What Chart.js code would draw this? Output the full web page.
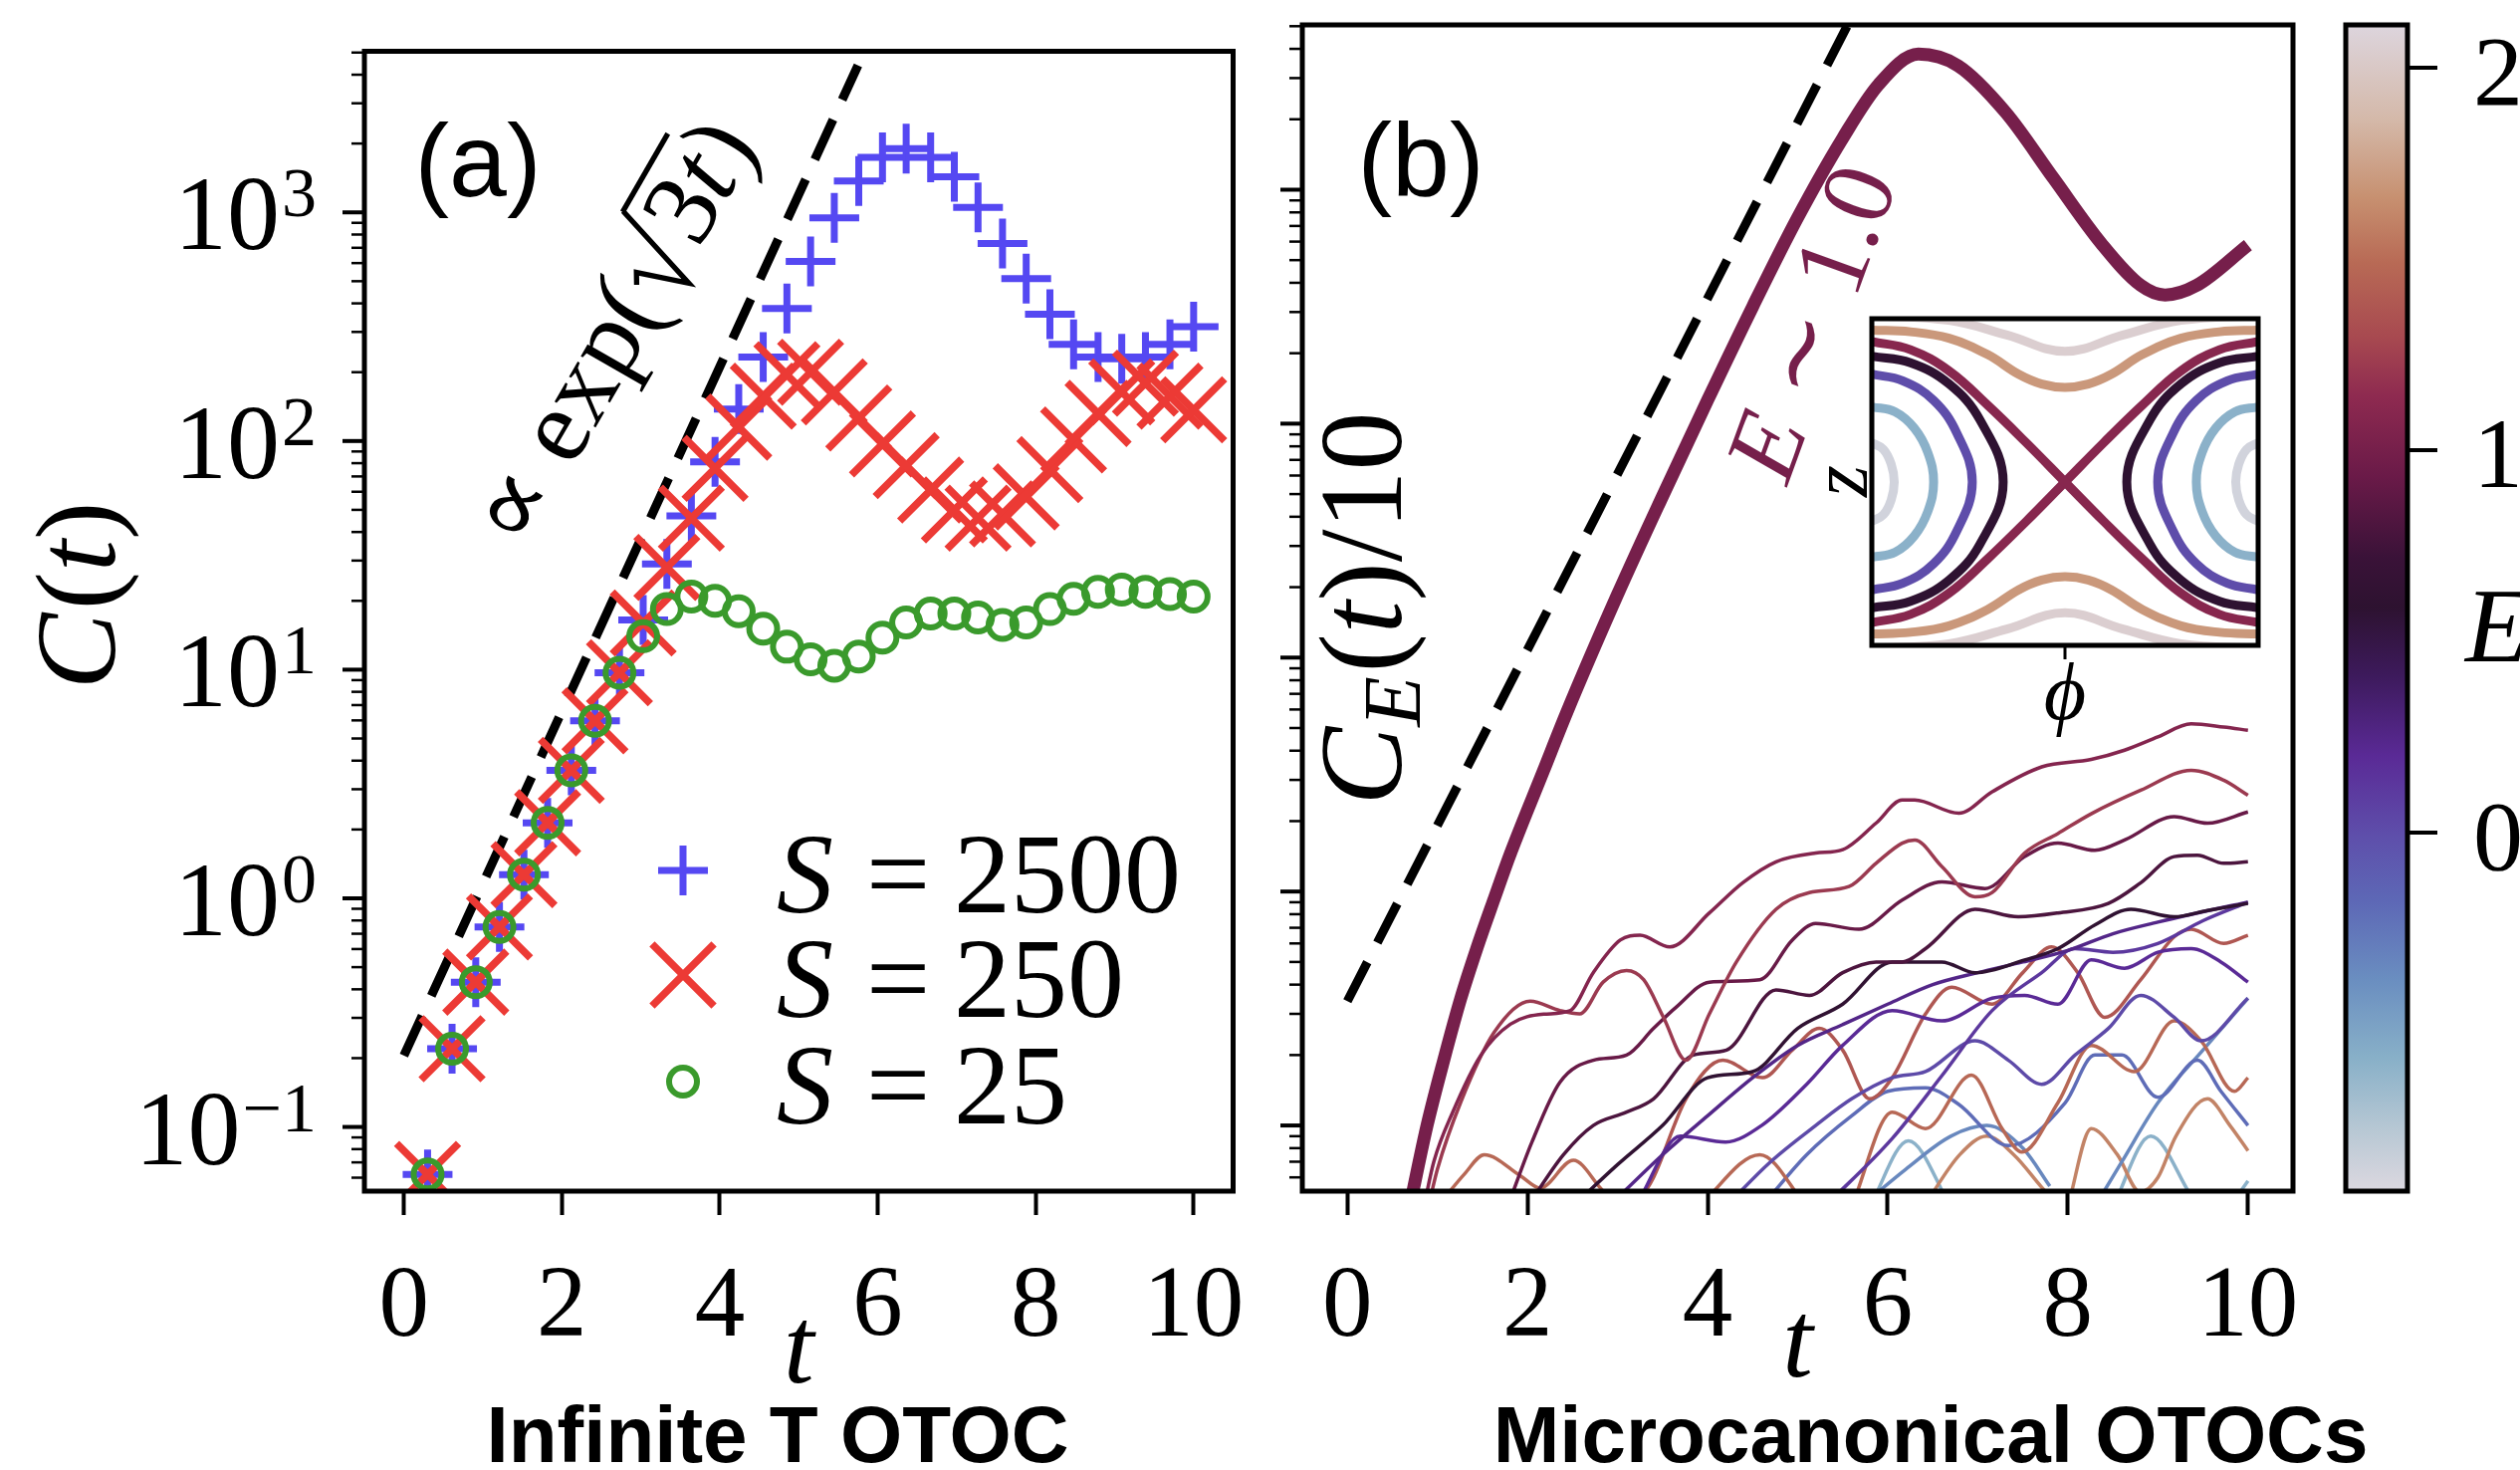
<!DOCTYPE html>
<html>
<head>
<meta charset="utf-8">
<title>OTOC growth</title>
<script src="https://cdn.jsdelivr.net/npm/chart.js@4.4.1/dist/chart.umd.min.js"></script>
<style>
  html, body { margin: 0; padding: 0; background: #fff; }
  body { position: relative; width: 2531px; height: 1476px; overflow: hidden; }
  canvas { position: absolute; top: 0; }
  .caption { position: absolute; top: 1401px; font: bold 80px "Liberation Sans", Arial, sans-serif; line-height: 80px; color: #000; white-space: nowrap; transform: translateX(-50%); }
</style>
</head>
<body>
<canvas id="panelA" width="1290" height="1476" style="left:0"></canvas>
<canvas id="panelB" width="1090" height="1476" style="left:1260px"></canvas>
<canvas id="colorbar" width="191" height="1476" style="left:2340px"></canvas>
<canvas id="inset" width="470" height="470" style="left:1820px; top:300px"></canvas>
<div class="caption" style="left:781px">Infinite T OTOC</div>
<div class="caption" style="left:1939px">Microcanonical OTOCs</div>
<script>
// ---------- values ----------
const xTicks = [0, 2, 4, 6, 8, 10];
const yTickExps = [-1, 0, 1, 2, 3];
const cbTicks = [0, 1, 2];
const spinSizes = [2500, 250, 25];
const yRange = [0.0524, 5064];
const eRange = [-0.9375, 2.112];

// panel (a): infinite temperature OTOC
const tGrid = [0.30, 0.61, 0.91, 1.21, 1.52, 1.82, 2.12, 2.42, 2.73, 3.03, 3.33, 3.64, 3.94, 4.24, 4.55, 4.85, 5.15,
  5.45, 5.76, 6.06, 6.36, 6.67, 6.97, 7.27, 7.58, 7.88, 8.18, 8.48, 8.79, 9.09, 9.39, 9.70, 10.00];
const otoc2500 = [0.062, 0.22, 0.43, 0.75, 1.27, 2.14, 3.63, 5.97, 9.7, 16.5, 29, 47, 81, 138, 233, 380, 610,
  946, 1370, 1740, 1900, 1740, 1430, 1050, 730, 513, 359, 265, 233, 229, 233, 265, 316];
const otoc250 = [0.062, 0.22, 0.43, 0.75, 1.27, 2.14, 3.63, 5.97, 9.7, 16, 28, 46, 76, 115, 157, 195, 200,
  164, 126, 97, 78, 61, 50, 46, 48, 57, 75, 101, 132, 164, 179, 157, 137];
const otoc25 = [0.062, 0.22, 0.43, 0.75, 1.27, 2.14, 3.63, 5.97, 9.7, 14, 18.4, 20.9, 20, 18, 15.1, 12.6, 11.1,
  10.4, 11.4, 13.8, 16.1, 17.6, 17.6, 16.9, 15.7, 16.1, 18.4, 20.4, 21.9, 22.4, 21.9, 21.4, 20.9];
const guideTa = [0, 5.75];
const guideVa = [0.205, 4400];

// panel (b): microcanonical OTOCs
const thickT = [0.6, 0.74, 0.885, 1.07, 1.26, 1.44, 1.63, 1.81, 2.18, 2.43, 3.0, 3.5, 4.0, 4.5, 5.0, 5.5, 5.9, 6.34,
  6.78, 7.31, 7.84, 8.37, 8.81, 9.08, 9.43, 10.0];
const thickV = [0.03, 0.055, 0.1, 0.19, 0.35, 0.575, 0.93, 1.45, 3.3, 5.75, 18.6, 49, 126, 316, 760, 1660, 2820, 3800,
  3390, 2140, 1120, 590, 390, 355, 390, 580];
const thickE = 1.0;
const guideTb = [0, 5.56];
const guideVb = [0.34, 5100];

const thinE = [1.08, 1.22, 0.92, 0.8, 0.62, 0.25, 0.12, 0.2, 0.02, 1.38, 1.48, -0.2, -0.35, 1.6, -0.6];
const thinT = [
  [0.85, 0.96, 1.17, 1.48, 1.81, 2.18, 2.47, 2.73, 3.03, 3.25, 3.58, 4.02, 4.39, 4.76, 5.2, 5.5, 5.87, 6.16, 6.3, 6.79, 7.16, 7.71, 8.26, 8.63, 9.0, 9.37, 9.73, 10.0],
  [0.9, 1.0, 1.26, 1.63, 2.03, 2.36, 2.58, 2.84, 3.1, 3.29, 3.51, 3.76, 4.02, 4.32, 4.76, 5.13, 5.57, 5.87, 6.16, 6.3, 6.6, 6.97, 7.16, 7.52, 7.89, 8.26, 8.81, 9.37, 9.73, 10.0],
  [1.78, 2.05, 2.36, 2.73, 3.1, 3.4, 3.65, 4.02, 4.58, 4.94, 5.2, 5.68, 6.16, 6.6, 7.08, 7.52, 7.89, 8.3, 8.63, 9.18, 9.55, 10.0],
  [2.0, 2.4, 2.73, 3.1, 3.4, 3.84, 4.21, 4.76, 5.13, 5.5, 5.87, 6.16, 6.42, 6.97, 7.45, 7.89, 8.45, 8.81, 9.18, 9.44, 9.73, 10.0],
  [2.5, 3.0, 3.5, 4.0, 4.5, 5.0, 5.5, 6.05, 6.6, 6.97, 7.52, 7.89, 8.3, 8.7, 9.18, 9.55, 10.0],
  [2.9, 3.5, 4.0, 4.5, 5.0, 5.5, 6.0, 6.5, 7.0, 7.5, 8.0, 8.5, 9.0, 9.5, 10.0],
  [5.3, 6.05, 6.6, 7.16, 7.71, 8.08, 8.5, 9.0, 9.5, 10.0],
  [3.2, 3.7, 4.2, 4.6, 5.1, 5.5, 6.05, 6.6, 7.16, 7.52, 7.89, 8.26, 8.63, 9.0, 9.37, 9.7, 10.0],
  [4.2, 4.7, 5.2, 5.6, 6.05, 6.42, 6.97, 7.34, 7.71, 8.08, 8.45, 8.81, 9.18, 9.48, 10.0],
  [3.2, 3.4, 3.76, 4.17, 4.61, 4.94, 5.24, 5.5, 5.8, 6.05, 6.42, 6.71, 7.16, 7.5, 7.82, 8.11, 8.41, 8.81, 9.18, 9.37, 9.73, 10.0],
  [1.0, 1.3, 1.52, 1.92, 2.14, 2.51, 2.81, 3.05, 3.5, 3.9, 4.58, 5.1, 5.35, 5.6, 6.05, 6.42, 6.93, 7.27, 7.49, 7.89, 8.26, 8.74, 9.18, 9.48, 9.85, 10.0],
  [4.6, 5.1, 5.6, 6.0, 6.42, 6.79, 7.34, 7.97, 8.3, 8.6, 9.0, 9.44, 9.7, 10.0],
  [5.7, 6.2, 6.7, 7.1, 7.5, 7.8, 8.05, 8.3, 8.6, 9.0, 9.5, 10.0],
  [6.4, 6.8, 7.1, 7.4, 7.7, 7.9, 7.95, 8.0, 8.26, 8.55, 8.8, 9.0, 9.2, 9.55, 9.8, 10.0],
  [5.8, 6.23, 6.7, 7.6, 8.5, 8.92, 9.37, 9.6, 9.8, 10.0]
];
const thinV = [
  [0.045, 0.07, 0.114, 0.199, 0.271, 0.299, 0.309, 0.45, 0.62, 0.65, 0.58, 0.81, 1.09, 1.34, 1.46, 1.51, 1.96, 2.46, 2.46, 2.16, 2.67, 3.41, 3.67, 4.02, 4.58, 5.21, 5.05, 4.89],
  [0.045, 0.065, 0.126, 0.25, 0.34, 0.31, 0.30, 0.41, 0.46, 0.42, 0.29, 0.19, 0.30, 0.50, 0.84, 0.99, 1.05, 1.32, 1.61, 1.66, 1.28, 0.95, 0.99, 1.46, 1.77, 2.15, 2.71, 3.30, 2.99, 2.58],
  [0.045, 0.085, 0.153, 0.19, 0.2, 0.26, 0.32, 0.41, 0.42, 0.62, 0.73, 0.69, 0.92, 1.10, 1.03, 1.41, 1.61, 1.5, 1.66, 2.09, 1.96, 2.19],
  [0.045, 0.075, 0.1, 0.114, 0.13, 0.2, 0.21, 0.38, 0.36, 0.45, 0.5, 0.5, 0.57, 0.84, 0.78, 0.81, 0.89, 1.09, 1.41, 1.43, 1.32, 1.34],
  [0.045, 0.068, 0.1, 0.16, 0.17, 0.26, 0.33, 0.5, 0.5, 0.45, 0.51, 0.57, 0.72, 0.84, 0.78, 0.83, 0.89],
  [0.045, 0.075, 0.11, 0.16, 0.22, 0.27, 0.33, 0.4, 0.45, 0.5, 0.56, 0.66, 0.74, 0.82, 0.9],
  [0.045, 0.088, 0.163, 0.31, 0.45, 0.57, 0.55, 0.6, 0.75, 0.9],
  [0.045, 0.09, 0.085, 0.1, 0.15, 0.22, 0.31, 0.28, 0.35, 0.36, 0.33, 0.51, 0.47, 0.55, 0.57, 0.5, 0.41],
  [0.045, 0.07, 0.1, 0.13, 0.16, 0.17, 0.23, 0.19, 0.15, 0.2, 0.26, 0.36, 0.29, 0.23, 0.35],
  [0.045, 0.06, 0.13, 0.19, 0.16, 0.21, 0.26, 0.21, 0.13, 0.16, 0.3, 0.39, 0.33, 0.45, 0.58, 0.45, 0.29, 0.42, 0.64, 0.69, 0.6, 0.65],
  [0.045, 0.062, 0.075, 0.061, 0.054, 0.071, 0.054, 0.042, null, 0.045, 0.075, 0.045, null, 0.045, 0.114, 0.097, 0.164, 0.097, 0.077, 0.125, 0.22, 0.17, 0.28, 0.23, 0.14, 0.16],
  [0.045, 0.075, 0.11, 0.14, 0.145, 0.123, 0.082, 0.125, 0.2, 0.2, 0.132, 0.19, 0.14, 0.1],
  [0.045, 0.065, 0.09, 0.1, 0.08, 0.055, null, 0.045, 0.07, 0.125, 0.21, 0.35],
  [0.045, 0.075, 0.09, 0.075, 0.055, 0.045, null, 0.045, 0.097, 0.075, 0.052, 0.06, 0.09, 0.13, 0.1, 0.078],
  [0.045, 0.086, 0.045, null, 0.045, 0.09, 0.05, null, 0.045, 0.058]
];

// inset: energy contours in the (phi, z) plane, phi as a fraction of the period
const insetE = [-0.9, -0.9, -0.6, -0.6, 0.0, 0.0, 0.6, 0.6, 1.1, 1.1, 1.7, 1.7, 2.05, 2.05];
const insetPhi = [
  [0, 0.03, 0.05, 0.058, 0.05, 0.03, 0],
  [1, 0.97, 0.95, 0.942, 0.95, 0.97, 1],
  [0, 0.06, 0.11, 0.145, 0.16, 0.145, 0.11, 0.06, 0],
  [1, 0.94, 0.89, 0.855, 0.84, 0.855, 0.89, 0.94, 1],
  [0, 0.08, 0.16, 0.22, 0.26, 0.22, 0.16, 0.08, 0],
  [1, 0.92, 0.84, 0.78, 0.74, 0.78, 0.84, 0.92, 1],
  [0, 0.1, 0.2, 0.28, 0.34, 0.28, 0.2, 0.1, 0],
  [1, 0.9, 0.8, 0.72, 0.66, 0.72, 0.8, 0.9, 1],
  [0, 0.1, 0.2, 0.3, 0.4, 0.5, 0.6, 0.7, 0.8, 0.9, 1],
  [0, 0.1, 0.2, 0.3, 0.4, 0.5, 0.6, 0.7, 0.8, 0.9, 1],
  [0, 0.1, 0.2, 0.3, 0.38, 0.44, 0.5, 0.56, 0.62, 0.7, 0.8, 0.9, 1],
  [0, 0.1, 0.2, 0.3, 0.38, 0.44, 0.5, 0.56, 0.62, 0.7, 0.8, 0.9, 1],
  [0, 0.2, 0.35, 0.5, 0.65, 0.8, 1],
  [0, 0.2, 0.35, 0.5, 0.65, 0.8, 1]
];
const insetZ = [
  [0.24, 0.2, 0.11, 0, -0.11, -0.2, -0.24],
  [0.24, 0.2, 0.11, 0, -0.11, -0.2, -0.24],
  [0.46, 0.43, 0.33, 0.18, 0, -0.18, -0.33, -0.43, -0.46],
  [0.46, 0.43, 0.33, 0.18, 0, -0.18, -0.33, -0.43, -0.46],
  [0.66, 0.62, 0.5, 0.3, 0, -0.3, -0.5, -0.62, -0.66],
  [0.66, 0.62, 0.5, 0.3, 0, -0.3, -0.5, -0.62, -0.66],
  [0.77, 0.73, 0.6, 0.38, 0, -0.38, -0.6, -0.73, -0.77],
  [0.77, 0.73, 0.6, 0.38, 0, -0.38, -0.6, -0.73, -0.77],
  [0.86, 0.81, 0.68, 0.47, 0.24, 0, -0.24, -0.47, -0.68, -0.81, -0.86],
  [-0.86, -0.81, -0.68, -0.47, -0.24, 0, 0.24, 0.47, 0.68, 0.81, 0.86],
  [0.93, 0.92, 0.88, 0.78, 0.66, 0.6, 0.58, 0.6, 0.66, 0.78, 0.88, 0.92, 0.93],
  [-0.93, -0.92, -0.88, -0.78, -0.66, -0.6, -0.58, -0.6, -0.66, -0.78, -0.88, -0.92, -0.93],
  [1.02, 0.99, 0.9, 0.8, 0.9, 0.99, 1.02],
  [-1.02, -0.99, -0.9, -0.8, -0.9, -0.99, -1.02]
];

// colour map sampled off the colour bar (energy -> colour)
const cmapE = [-0.95, -0.78, -0.59, -0.385, -0.18, -0.01, 0.2, 0.41, 0.59, 0.72, 0.93, 1.14, 1.30, 1.49, 1.66, 1.86, 2.11];
const cmapHex = ['#dcd8e0', '#b8c8d4', '#88b0c8', '#6a8ec0', '#5d68b6', '#5e4fab', '#5a2a96', '#3d1a5c', '#2d1230',
  '#3a1238', '#6a1a48', '#8e2a50', '#a84a50', '#b86a55', '#c79070', '#d4b8a8', '#ddd5dd'];

// ---------- helpers ----------
const SERIF = '"Liberation Serif", "DejaVu Serif", serif';
const SANS = '"Liberation Sans", Arial, sans-serif';
const BLUE = '#5548f2', RED = '#ec3a35', GREEN = '#3a9a2c';

function hexRgb(h) {
  const n = parseInt(h.slice(1), 16);
  return [n >> 16, (n >> 8) & 255, n & 255];
}
function cmap(e) {
  if (e <= cmapE[0]) return cmapHex[0];
  for (let i = 1; i < cmapE.length; i++) {
    if (e <= cmapE[i]) {
      const f = (e - cmapE[i - 1]) / (cmapE[i] - cmapE[i - 1]);
      const a = hexRgb(cmapHex[i - 1]), b = hexRgb(cmapHex[i]);
      return 'rgb(' + a.map((c, k) => Math.round(c + (b[k] - c) * f)).join(',') + ')';
    }
  }
  return cmapHex[cmapHex.length - 1];
}
const pts = (xs, ys) => xs.map((x, i) => ({ x: x, y: ys[i] }));
const font = (size, italic) => (italic ? 'italic ' : '') + Math.round(size) + 'px ' + SERIF;

// little math-text renderer: pieces are drawn one after another on a baseline
function runWidth(ctx, pieces, size) {
  let w = 0;
  for (const p of pieces) {
    if (p.sqrt) { w += 0.62 * size; continue; }
    ctx.font = font(size * (p.s || 1), p.it);
    w += ctx.measureText(p.t).width + (p.gap || 0) * size;
  }
  return w;
}
function drawRun(ctx, pieces, x, y, size) {
  let cx = x, overFrom = null;
  for (const p of pieces) {
    if (p.sqrt) {
      ctx.save();
      ctx.lineWidth = 0.05 * size;
      ctx.strokeStyle = ctx.fillStyle;
      ctx.beginPath();
      ctx.moveTo(cx + 0.04 * size, y - 0.34 * size);
      ctx.lineTo(cx + 0.14 * size, y - 0.40 * size);
      ctx.lineTo(cx + 0.30 * size, y + 0.08 * size);
      ctx.lineTo(cx + 0.58 * size, y - 0.80 * size);
      ctx.stroke();
      ctx.restore();
      overFrom = cx + 0.57 * size;
      cx += 0.62 * size;
      continue;
    }
    ctx.font = font(size * (p.s || 1), p.it);
    ctx.fillText(p.t, cx, y + (p.dy || 0) * size);
    cx += ctx.measureText(p.t).width + (p.gap || 0) * size;
    if (p.endOver && overFrom !== null) {
      ctx.fillRect(overFrom, y - 0.825 * size, cx - overFrom, 0.05 * size);
      overFrom = null;
    }
  }
}
function drawRotated(ctx, pieces, cx, cy, deg, size, color) {
  ctx.save();
  ctx.translate(cx, cy);
  ctx.rotate(deg * Math.PI / 180);
  ctx.fillStyle = color;
  ctx.textAlign = 'left';
  ctx.textBaseline = 'alphabetic';
  const w = runWidth(ctx, pieces, size);
  drawRun(ctx, pieces, -w / 2, 0.3 * size, size);
  ctx.restore();
}
function drawMarker(ctx, style, x, y, r, lw, color) {
  ctx.save();
  ctx.strokeStyle = color;
  ctx.lineWidth = lw;
  ctx.beginPath();
  if (style === 'circle') {
    ctx.arc(x, y, r, 0, 2 * Math.PI);
  } else if (style === 'cross') {
    ctx.moveTo(x - r, y); ctx.lineTo(x + r, y);
    ctx.moveTo(x, y - r); ctx.lineTo(x, y + r);
  } else {
    const d = r * Math.SQRT1_2;
    ctx.moveTo(x - d, y - d); ctx.lineTo(x + d, y + d);
    ctx.moveTo(x + d, y - d); ctx.lineTo(x - d, y + d);
  }
  ctx.stroke();
  ctx.restore();
}

// frame + log ticks on the left spine (shared by both panels)
function drawFrame(ctx, a, ys) {
  ctx.save();
  ctx.strokeStyle = '#000';
  ctx.lineWidth = 4;
  for (const e of yTickExps) {
    const py = ys.getPixelForValue(Math.pow(10, e));
    ctx.beginPath(); ctx.moveTo(a.left - 22, py); ctx.lineTo(a.left, py); ctx.stroke();
  }
  ctx.lineWidth = 2.5;
  for (let e = -2; e <= 3; e++) {
    for (let m = 2; m <= 9; m++) {
      const v = m * Math.pow(10, e);
      if (v < yRange[0] || v > yRange[1]) continue;
      const py = ys.getPixelForValue(v);
      ctx.beginPath(); ctx.moveTo(a.left - 13, py); ctx.lineTo(a.left, py); ctx.stroke();
    }
  }
  ctx.lineWidth = 5;
  ctx.strokeRect(a.left, a.top, a.right - a.left, a.bottom - a.top);
  ctx.restore();
}

function baseOptions(padding, yWidth) {
  return {
    responsive: false, animation: false, devicePixelRatio: 1, events: [],
    layout: { padding: padding },
    plugins: { legend: { display: false }, tooltip: { enabled: false } },
    scales: {
      x: {
        type: 'linear', min: -0.5, max: 10.5,
        afterBuildTicks: s => { s.ticks = xTicks.map(v => ({ value: v })); },
        afterFit: s => { s.height = 280; },
        grid: { display: true, drawOnChartArea: false, drawTicks: true, tickLength: 24, tickWidth: 4, tickColor: '#000' },
        border: { display: false },
        ticks: { color: '#000', padding: 34, maxRotation: 0, autoSkip: false, font: { family: SERIF, size: 101 } }
      },
      y: {
        type: 'logarithmic', min: yRange[0], max: yRange[1],
        afterFit: s => { s.width = yWidth; },
        grid: { display: false }, border: { display: false }, ticks: { display: false }
      }
    }
  };
}

// ---------- panel (a) ----------
const panelAPlugin = {
  id: 'panelAPlugin',
  afterDraw(chart) {
    const ctx = chart.ctx, a = chart.chartArea, ys = chart.scales.y, xs = chart.scales.x;
    drawFrame(ctx, a, ys);
    ctx.save();
    ctx.fillStyle = '#000';
    ctx.textBaseline = 'alphabetic';
    ctx.textAlign = 'right';
    for (const e of yTickExps) {
      const py = ys.getPixelForValue(Math.pow(10, e));
      const sup = e < 0 ? '\u2212' + (-e) : String(e);
      ctx.font = font(70);
      const sw = ctx.measureText(sup).width;
      ctx.fillText(sup, 318, py + 4);
      ctx.font = font(106);
      ctx.fillText('10', 318 - sw - 2, py + 37);
    }
    // axis labels
    drawRotated(ctx, [{ t: 'C', it: true, gap: 0.03 }, { t: '(' }, { t: 't', it: true }, { t: ')' }], 80, 598, -90, 115, '#000');
    ctx.textAlign = 'center';
    ctx.font = font(110, true);
    ctx.fillText('t', xs.getPixelForValue(5), 1388);
    // legend
    const rows = chart.data.datasets.filter(d => d.spin).sort((p, q) => q.spin - p.spin);
    rows.forEach((d, i) => {
      const my = [874, 979, 1086][i];
      drawMarker(ctx, d.pointStyle, 686, my, d.pointRadius, d.pointBorderWidth, d.pointBorderColor);
      ctx.textAlign = 'left';
      ctx.font = font(114, true);
      ctx.fillText('S', 780, my + 42);
      ctx.font = font(114);
      ctx.fillText('=', 870, my + 42);
      ctx.fillText(String(d.spin), 958, my + 42);
    });
    // annotations
    ctx.textAlign = 'center';
    ctx.textBaseline = 'middle';
    ctx.font = '104px ' + SANS;
    ctx.fillText('(a)', 480, 168);
    drawRotated(ctx, [{ t: '\u221D' }, { t: ' exp(' }, { sqrt: true }, { t: '3' }, { t: 't', it: true, endOver: true, gap: 0.03 }, { t: ')' }],
      616, 335, -60, 106, '#000');
    ctx.restore();
  }
};

new Chart(document.getElementById('panelA'), {
  type: 'line',
  data: {
    datasets: [
      { spin: spinSizes[2], data: pts(tGrid, otoc25), showLine: false, pointStyle: 'circle', pointRadius: 14, pointBorderWidth: 6,
        pointBorderColor: GREEN, pointBackgroundColor: 'rgba(0,0,0,0)', order: 0, clip: 0 },
      { spin: spinSizes[1], data: pts(tGrid, otoc250), showLine: false, pointStyle: 'crossRot', pointRadius: 44, pointBorderWidth: 7.5,
        pointBorderColor: RED, pointBackgroundColor: RED, order: 1, clip: 0 },
      { spin: spinSizes[0], data: pts(tGrid, otoc2500), showLine: false, pointStyle: 'cross', pointRadius: 25, pointBorderWidth: 7,
        pointBorderColor: BLUE, pointBackgroundColor: BLUE, order: 2, clip: 0 },
      { data: pts(guideTa, guideVa), borderColor: '#000', borderWidth: 9, borderDash: [44, 22], pointRadius: 0, order: 3, clip: 0 }
    ]
  },
  options: baseOptions({ left: 0, top: 25, right: 34, bottom: 0 }, 366),
  plugins: [panelAPlugin]
});

// ---------- panel (b) ----------
const panelBPlugin = {
  id: 'panelBPlugin',
  afterDraw(chart) {
    const ctx = chart.ctx, a = chart.chartArea, ys = chart.scales.y, xs = chart.scales.x;
    drawFrame(ctx, a, ys);
    ctx.save();
    ctx.fillStyle = '#000';
    ctx.textAlign = 'center';
    ctx.textBaseline = 'alphabetic';
    ctx.font = font(110, true);
    ctx.fillText('t', xs.getPixelForValue(5), 1382);
    ctx.textBaseline = 'middle';
    ctx.font = '104px ' + SANS;
    ctx.fillText('(b)', 1427 - 1260, 167);
    drawRotated(ctx, [{ t: 'C', it: true }, { t: 'E', it: true, s: 0.7, dy: 0.16, gap: 0.03 }, { t: '(' }, { t: 't', it: true }, { t: ')/10' }],
      1372 - 1260, 611, -90, 118, '#000');
    drawRotated(ctx, [{ t: 'E', it: true }, { t: ' \u223C ' }, { t: '1.0' }], 1822 - 1260, 325, -70, 102, cmap(thickE));
    ctx.restore();
  }
};

const bSets = [
  { data: pts(thickT, thickV), borderColor: cmap(thickE), borderWidth: 13, pointRadius: 0, cubicInterpolationMode: 'monotone', order: 0, clip: 0 },
  { data: pts(guideTb, guideVb), borderColor: '#000', borderWidth: 9, borderDash: [44, 22], pointRadius: 0, order: 1, clip: 0 }
];
thinE.forEach((e, i) => {
  bSets.push({ data: pts(thinT[i], thinV[i]), borderColor: cmap(e), borderWidth: 3.5, pointRadius: 0,
    cubicInterpolationMode: 'monotone', spanGaps: false, order: 2, clip: 0 });
});

new Chart(document.getElementById('panelB'), {
  type: 'line',
  data: { datasets: bSets },
  options: baseOptions({ left: 0, top: 25, right: 47, bottom: 0 }, 48),
  plugins: [panelBPlugin]
});

// ---------- colour bar ----------
const colorbarPlugin = {
  id: 'colorbarPlugin',
  afterDraw(chart) {
    const ctx = chart.ctx, a = chart.chartArea, ys = chart.scales.y;
    const g = ctx.createLinearGradient(0, a.bottom, 0, a.top);
    cmapE.forEach((e, i) => {
      const f = (ys.getPixelForValue(e) - a.bottom) / (a.top - a.bottom);
      g.addColorStop(Math.min(1, Math.max(0, f)), cmapHex[i]);
    });
    ctx.save();
    ctx.fillStyle = g;
    ctx.fillRect(a.left, a.top, a.right - a.left, a.bottom - a.top);
    ctx.strokeStyle = '#000';
    ctx.lineWidth = 5;
    ctx.strokeRect(a.left, a.top, a.right - a.left, a.bottom - a.top);
    ctx.lineWidth = 4;
    ctx.fillStyle = '#000';
    ctx.textAlign = 'left';
    ctx.textBaseline = 'alphabetic';
    ctx.font = font(100);
    for (const v of cbTicks) {
      const py = ys.getPixelForValue(v);
      ctx.beginPath(); ctx.moveTo(a.right, py); ctx.lineTo(a.right + 30, py); ctx.stroke();
      ctx.fillText(String(v), 144, py + 37);
    }
    ctx.font = font(105, true);
    ctx.fillText('E', 136, 664);
    ctx.restore();
  }
};

new Chart(document.getElementById('colorbar'), {
  type: 'line',
  data: { datasets: [] },
  options: {
    responsive: false, animation: false, devicePixelRatio: 1, events: [],
    layout: { padding: { left: 16, top: 25, right: 0, bottom: 280 } },
    plugins: { legend: { display: false }, tooltip: { enabled: false } },
    scales: {
      x: { type: 'linear', min: 0, max: 1, display: false },
      y: { type: 'linear', position: 'right', min: eRange[0], max: eRange[1],
           afterFit: s => { s.width = 113; },
           grid: { display: false }, border: { display: false }, ticks: { display: false } }
    }
  },
  plugins: [colorbarPlugin]
});

// ---------- inset phase portrait ----------
const insetPlugin = {
  id: 'insetPlugin',
  beforeDatasetsDraw(chart) {
    const ctx = chart.ctx, a = chart.chartArea;
    ctx.save();
    ctx.fillStyle = '#fff';
    ctx.fillRect(a.left, a.top, a.right - a.left, a.bottom - a.top);
    ctx.restore();
  },
  afterDraw(chart) {
    const ctx = chart.ctx, a = chart.chartArea, xs = chart.scales.x;
    ctx.save();
    ctx.strokeStyle = '#000';
    ctx.lineWidth = 5;
    ctx.strokeRect(a.left, a.top, a.right - a.left, a.bottom - a.top);
    const mx = xs.getPixelForValue(0.5);
    ctx.lineWidth = 3;
    ctx.beginPath(); ctx.moveTo(mx, a.bottom); ctx.lineTo(mx, a.bottom + 14); ctx.stroke();
    ctx.fillStyle = '#000';
    ctx.textAlign = 'center';
    ctx.textBaseline = 'alphabetic';
    ctx.font = font(82, true);
    ctx.fillText('\u03D5', mx, 422);
    drawRotated(ctx, [{ t: 'z', it: true }], 30, 183, -90, 82, '#000');
    ctx.restore();
  }
};

new Chart(document.getElementById('inset'), {
  type: 'line',
  data: {
    datasets: insetE.map((e, i) => ({
      data: pts(insetPhi[i], insetZ[i]), borderColor: cmap(e), borderWidth: 9, pointRadius: 0, tension: 0.4, clip: 0
    }))
  },
  options: {
    responsive: false, animation: false, devicePixelRatio: 1, events: [],
    layout: { padding: { left: 60, top: 20, right: 22, bottom: 122 } },
    plugins: { legend: { display: false }, tooltip: { enabled: false } },
    scales: {
      x: { type: 'linear', min: 0, max: 1, display: false },
      y: { type: 'linear', min: -1, max: 1, display: false }
    }
  },
  plugins: [insetPlugin]
});
</script>
</body>
</html>
